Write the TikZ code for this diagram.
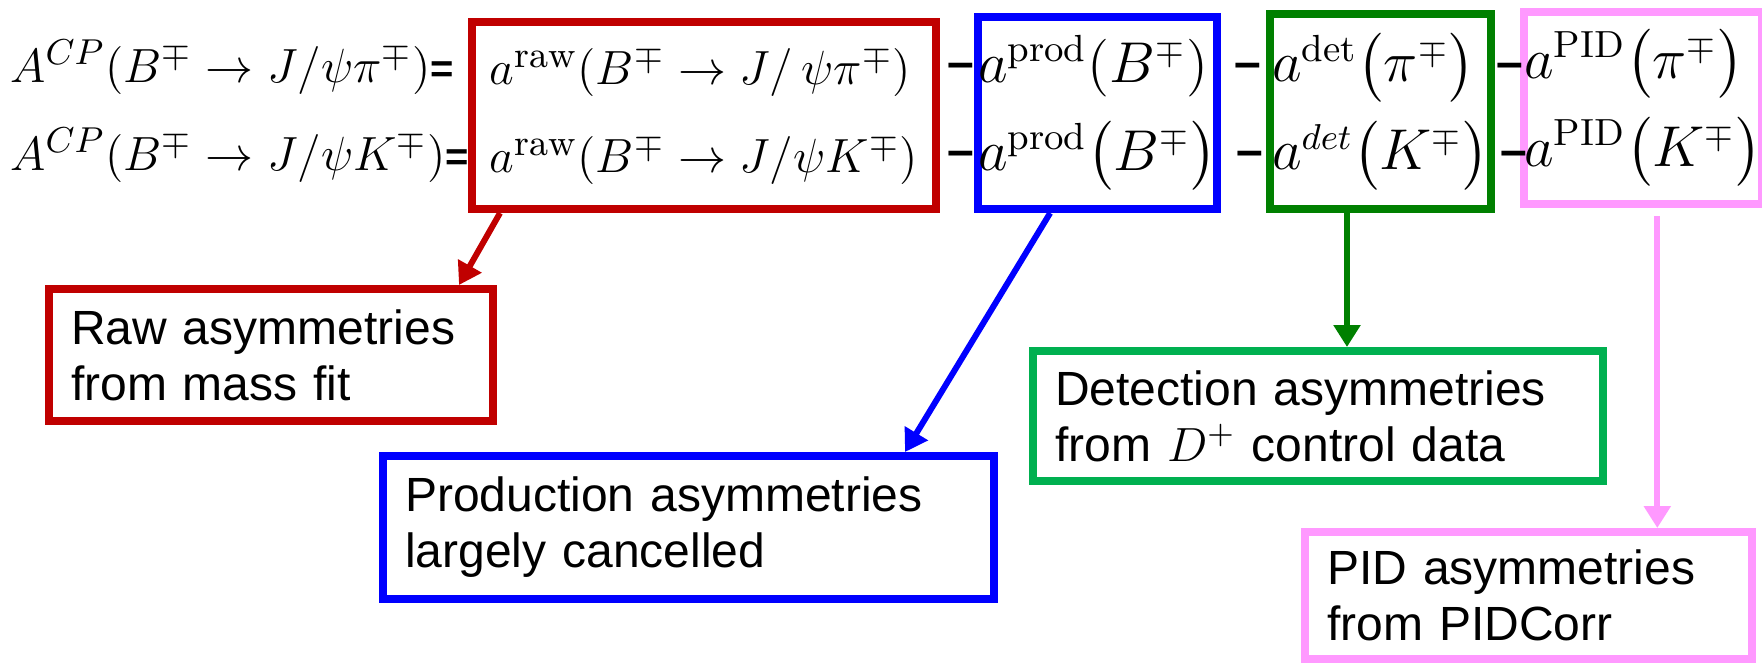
\documentclass[tikz,border=0pt]{standalone}
\usepackage{amsmath}
\usepackage{fontspec}
\setsansfont{Liberation Sans}
\usetikzlibrary{arrows.meta}
\usetikzlibrary{calc}

\definecolor{rawred}{RGB}{192,0,0}
\definecolor{prodblue}{RGB}{0,0,255}
\definecolor{detgreen}{RGB}{0,128,0}
\definecolor{notegreen}{RGB}{0,176,80}
\definecolor{pidpink}{RGB}{255,153,255}

\newcommand{\eqbar}{{\sffamily\bfseries\fontsize{10}{12}\selectfont =}}

\tikzset{
  termbox/.style={draw, line width=2pt, inner sep=0pt, align=left, font=\fontsize{13.5}{22}\selectfont},
  notebox/.style={draw, line width=2pt, inner xsep=5.5pt, inner ysep=0pt, align=left, font=\sffamily\fontsize{12}{14}\selectfont},
  minussign/.style={inner sep=0pt, font=\sffamily\bfseries\fontsize{12}{14}\selectfont},
  link/.style={line width=1.5pt, -{Triangle[length=5.5pt,width=6.5pt]}}
}

\begin{document}
\begin{tikzpicture}[x=0.25pt,y=0.25pt,yscale=-1,xscale=1]
\useasboundingbox (0,0) rectangle (1762,665);

% Text Node: left hand side
\node [anchor=east, inner sep=0pt, align=left, font=\fontsize{12.8}{22}\selectfont] (lhs) at (470,111)
  {$A^{CP}(B^{\mp}\to J/\psi\pi^{\mp})$\eqbar\\$A^{CP}(B^{\mp}\to J/\psi K^{\mp})$\eqbar};

% Shape: Rectangles with the four terms
\node [termbox, draw=rawred, font=\fontsize{13.2}{22}\selectfont, minimum width=116pt, minimum height=46.75pt] (rawterm) at (704,115.5)
  {$a^{\mathrm{raw}}(B^{\mp}\to J/\,\psi\pi^{\mp})$\\$a^{\mathrm{raw}}(B^{\mp}\to J/\psi K^{\mp})$};
\node [termbox, draw=prodblue, minimum width=58.25pt, minimum height=48pt] (prodterm) at (1097.5,113)
  {$a^{\mathrm{prod}}(B^{\mp})$\\$a^{\mathrm{prod}}\bigl(B^{\mp}\bigr)$};
\node [termbox, draw=detgreen, minimum width=55.25pt, minimum height=48.75pt] (detterm) at (1380.5,111.5)
  {$a^{\mathrm{det}}\bigl(\pi^{\mp}\bigr)$\\$a^{det}\bigl(K^{\mp}\bigr)$};
\node [termbox, draw=pidpink, minimum width=55.5pt, minimum height=48pt] (pidterm) at (1643,108)
  {$a^{\mathrm{PID}}\bigl(\pi^{\mp}\bigr)$\\$a^{\mathrm{PID}}\bigl(K^{\mp}\bigr)$};

% Text Node: minus signs
\node [minussign] (sepupA) at (961,71) {--};
\node [minussign] (seplowA) at (961,159) {--};
\node [minussign] (sepupB) at (1248,71) {--};
\node [minussign] (seplowB) at (1250,159) {--};
\node [minussign] (sepupC) at (1510,71) {--};
\node [minussign] (seplowC) at (1514,159) {--};

% Shape: Rectangles with the notes
\node [notebox, draw=rawred, text width=100pt, minimum height=33pt] (rawnote) at (271,355)
  {Raw asymmetries\\from mass fit};
\node [notebox, draw=prodblue, text width=141.75pt, minimum height=35.75pt] (prodnote) at (688.5,527.5)
  {Production asymmetries\\largely cancelled};
\node [notebox, draw=notegreen, text width=131.5pt, minimum height=32.5pt] (detnote) at (1318,416)
  {Detection asymmetries\\from $D^{+}$ control data};
\node [notebox, draw=pidpink, text width=100.75pt, minimum height=31.75pt] (pidnote) at (1528.5,595.5)
  {PID asymmetries\\from PIDCorr};

% Arrows
\coordinate (detfoot) at ($(detterm.south west)+(81,0)$);
\coordinate (pidfoot) at ($(pidterm.south west)+(137,8)$);
\draw [link, rawred] ($(rawterm.south west)+(32,0)$) -- ($(rawnote.north east)+(-38,0)$);
\draw [link, prodblue] ($(prodterm.south west)+(76,0)$) -- ($(prodnote.north east)+(-93,0)$);
\draw [link, detgreen] (detfoot) -- (detfoot |- detnote.north);
\draw [link, pidpink] (pidfoot) -- (pidfoot |- pidnote.north);

\end{tikzpicture}
\end{document}
